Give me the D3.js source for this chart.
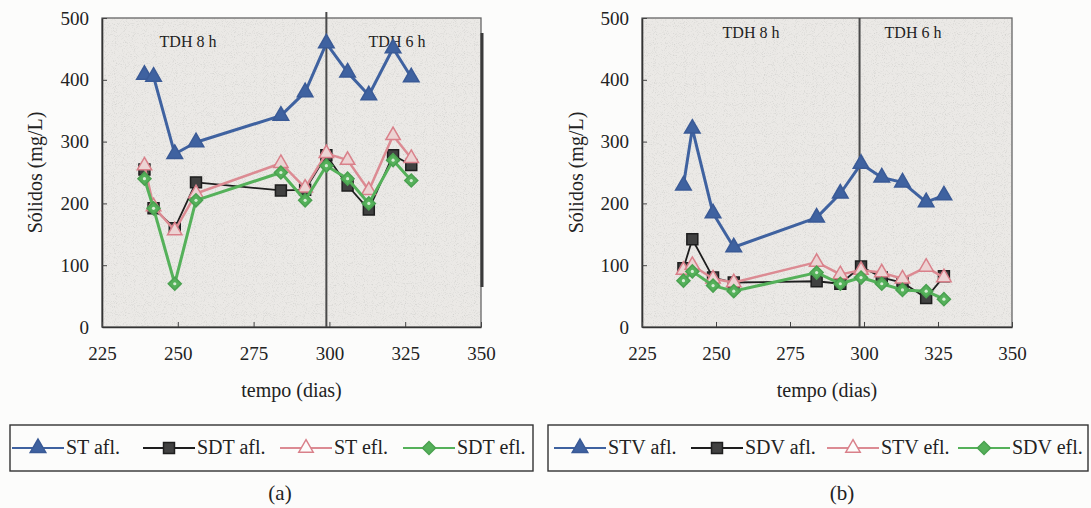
<!DOCTYPE html>
<html>
<head>
<meta charset="utf-8">
<script src="https://cdn.jsdelivr.net/npm/d3@7"></script>
<style>
  body { margin: 0; background: #fcfcfb; }
</style>
</head>
<body>
<svg id="chart" width="1091" height="508" font-family="'Liberation Serif', 'Times New Roman', serif"></svg>
<script>
// dias de operação (mesmos para os dois gráficos)
const days = [239, 242, 249, 256, 284, 292, 299, 306, 313, 321, 327];

// (a) sólidos totais / dissolvidos totais
const stAfl  = [408, 405, 280, 299, 342, 380, 459, 412, 375, 451, 404];
const sdtAfl = [255, 192, 160, 234, 221, 222, 278, 229, 190, 278, 262];
const stEfl  = [261, 195, 156, 216, 265, 225, 281, 270, 221, 310, 273];
const sdtEfl = [240, 192, 70, 205, 250, 205, 261, 240, 200, 270, 237];

// (b) sólidos voláteis
const stvAfl = [229, 321, 184, 129, 177, 216, 264, 242, 234, 202, 213];
const sdvAfl = [95, 142, 80, 72, 74, 70, 98, 80, 72, 47, 82];
const stvEfl = [92, 100, 78, 72, 105, 85, 92, 88, 78, 97, 80];
const sdvEfl = [75, 90, 67, 58, 88, 70, 80, 70, 60, 58, 45];

const namesA = ["ST afl.", "SDT afl.", "ST efl.", "SDT efl."];
const namesB = ["STV afl.", "SDV afl.", "STV efl.", "SDV efl."];
const xTicks = [225, 250, 275, 300, 325, 350];
const yTicks = [0, 100, 200, 300, 400, 500];
const phaseLabels = ["TDH 8 h", "TDH 6 h"];

const FONT = "'Liberation Serif', 'Times New Roman', serif";

// estilos das quatro séries (azul, preto, rosa, verde)
const styles = [
  { color: "#3f62a0", width: 3,   symbol: d3.symbolTriangle, size: 105, fill: "#3f62a0", stroke: "#3a5a96" },
  { color: "#1e1e1e", width: 1.8, symbol: d3.symbolSquare,   size: 120, fill: "#414141", stroke: "#1e1e1e" },
  { color: "#dc8b93", width: 2.5, symbol: d3.symbolTriangle, size: 90,  fill: "#ecd3d3", stroke: "#d9808a" },
  { color: "#55b15a", width: 3,   symbol: d3.symbolSquare,   size: 85,  fill: "#55b15a", stroke: "#4aa150", rot: 45 }
];

const svg = d3.select("#chart");

// textura leve de papel escaneado
const defs = svg.append("defs");
const f = defs.append("filter").attr("id", "speckle").attr("x", 0).attr("y", 0).attr("width", 1).attr("height", 1);
f.append("feTurbulence").attr("type", "fractalNoise").attr("baseFrequency", 1.1).attr("numOctaves", 1).attr("seed", 3).attr("result", "n");
f.append("feColorMatrix").attr("in", "n").attr("type", "matrix")
  .attr("values", "0 0 0 0 0.62  0 0 0 0 0.62  0 0 0 0 0.6  0 0 0 -2.6 1.25")
  .attr("result", "dots");
f.append("feComposite").attr("in", "dots").attr("in2", "SourceGraphic").attr("operator", "in").attr("result", "d2");
f.append("feMerge").call(m => { m.append("feMergeNode").attr("in", "SourceGraphic"); m.append("feMergeNode").attr("in", "d2"); });

const y = d3.scaleLinear().domain([0, 500]).range([327, 18]);

function drawPanel(cfg) {
  const x = d3.scaleLinear().domain([225, 350]).range(cfg.xRange);
  const g = svg.append("g");
  const [x0, x1] = cfg.xRange;

  // área do gráfico
  g.append("rect")
    .attr("x", x0).attr("y", y(500))
    .attr("width", x1 - x0).attr("height", y(0) - y(500))
    .attr("fill", "#ebe9e6")
    .attr("filter", "url(#speckle)");
  g.append("rect")
    .attr("x", x0).attr("y", y(500))
    .attr("width", x1 - x0).attr("height", y(0) - y(500))
    .attr("fill", "none")
    .attr("stroke", "#666").attr("stroke-width", 1.3);

  // eixos
  const yAxis = g.append("g")
    .attr("transform", `translate(${x0},0)`)
    .call(d3.axisLeft(y).tickValues(yTicks).tickSizeInner(-5).tickSizeOuter(0).tickPadding(13));
  const xAxis = g.append("g")
    .attr("transform", `translate(0,${y(0)})`)
    .call(d3.axisBottom(x).tickValues(xTicks).tickSizeInner(-5).tickSizeOuter(0).tickPadding(20));
  [yAxis, xAxis].forEach(a => {
    a.attr("font-family", FONT);
    a.select(".domain").attr("stroke", "#333").attr("stroke-width", 1.6);
    a.selectAll(".tick line").attr("stroke", "#444");
    a.selectAll(".tick text").attr("font-size", 19).attr("fill", "#222");
  });

  // linha que separa as fases
  g.append("line")
    .attr("x1", x(cfg.split)).attr("x2", x(cfg.split))
    .attr("y1", y(500) - cfg.splitOver).attr("y2", y(0))
    .attr("stroke", "#4a4a4a").attr("stroke-width", 2);

  g.selectAll("text.phase")
    .data(phaseLabels)
    .enter().append("text")
    .attr("class", "phase")
    .attr("x", (d, i) => cfg.phaseX[i])
    .attr("y", cfg.phaseY)
    .attr("text-anchor", "middle")
    .attr("font-size", 16)
    .attr("fill", "#222")
    .text(d => d);

  // séries
  const line = d3.line().x(d => x(d[0])).y(d => y(d[1]));
  cfg.series.forEach((vals, i) => {
    const s = styles[i];
    const pts = days.map((d, j) => [d, vals[j]]);
    g.append("path")
      .datum(pts)
      .attr("d", line)
      .attr("fill", "none")
      .attr("stroke", s.color)
      .attr("stroke-width", s.width)
      .attr("stroke-linejoin", "round");
    g.selectAll(null)
      .data(pts)
      .enter().append("path")
      .attr("d", d3.symbol().type(s.symbol).size(s.size))
      .attr("transform", d => `translate(${x(d[0])},${y(d[1])}) rotate(${s.rot || 0})`)
      .attr("fill", s.fill)
      .attr("stroke", s.stroke)
      .attr("stroke-width", 1.5);
    if (i === 3) {
      g.selectAll(null)
        .data(pts)
        .enter().append("circle")
        .attr("cx", d => x(d[0])).attr("cy", d => y(d[1]))
        .attr("r", 1.6).attr("fill", "#d8ecd6");
    }
  });

  // títulos dos eixos
  g.append("text")
    .attr("transform", `translate(${cfg.yLabelX},${(y(0) + y(500)) / 2}) rotate(-90)`)
    .attr("text-anchor", "middle")
    .attr("dominant-baseline", "central")
    .attr("font-size", 20)
    .attr("fill", "#222")
    .text("Sólidos (mg/L)");
  g.append("text")
    .attr("x", (x0 + x1) / 2).attr("y", 397)
    .attr("text-anchor", "middle")
    .attr("font-size", 20)
    .attr("fill", "#222")
    .text("tempo (dias)");

  // legenda
  const lg = g.append("g");
  lg.append("rect")
    .attr("x", cfg.legendBox[0]).attr("y", 425)
    .attr("width", cfg.legendBox[1] - cfg.legendBox[0]).attr("height", 46)
    .attr("fill", "none").attr("stroke", "#333").attr("stroke-width", 1.4);
  cfg.names.forEach((name, i) => {
    const s = styles[i];
    const lx = cfg.legendX[i], ly = 448;
    lg.append("line")
      .attr("x1", lx).attr("x2", lx + 52).attr("y1", ly).attr("y2", ly)
      .attr("stroke", s.color).attr("stroke-width", 2);
    lg.append("path")
      .attr("d", d3.symbol().type(s.symbol).size(s.size)())
      .attr("transform", `translate(${lx + 26},${ly}) rotate(${s.rot || 0})`)
      .attr("fill", i === 2 ? "#fcfcfb" : s.fill)
      .attr("stroke", s.stroke).attr("stroke-width", 1.5);
    lg.append("text")
      .attr("x", lx + 54).attr("y", ly + 6)
      .attr("font-size", 20)
      .attr("fill", "#222")
      .text(name);
  });

  g.append("text")
    .attr("x", cfg.tagX).attr("y", 500)
    .attr("text-anchor", "middle")
    .attr("font-size", 21)
    .attr("fill", "#222")
    .text(cfg.tag);
}

drawPanel({
  xRange: [102, 481], split: 299, splitOver: 6,
  phaseX: [188, 397], phaseY: 47,
  series: [stAfl, sdtAfl, stEfl, sdtEfl], names: namesA,
  yLabelX: 35, legendBox: [10, 533], legendX: [12, 143, 280, 403],
  tagX: 280, tag: "(a)"
});

drawPanel({
  xRange: [642, 1012], split: 298.5, splitOver: 0,
  phaseX: [751, 913], phaseY: 38,
  series: [stvAfl, sdvAfl, stvEfl, sdvEfl], names: namesB,
  yLabelX: 576, legendBox: [548, 1088], legendX: [554, 691, 827, 958],
  tagX: 842, tag: "(b)"
});

// traço extra mais grosso na borda direita do gráfico (a), como no original
svg.append("line")
  .attr("x1", 482).attr("x2", 482).attr("y1", 33).attr("y2", 287)
  .attr("stroke", "#3a3a3a").attr("stroke-width", 3);
</script>
</body>
</html>
